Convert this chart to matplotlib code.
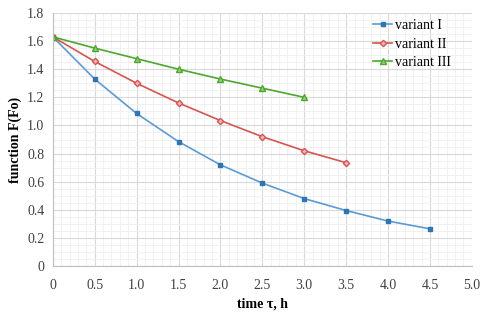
import numpy as np
import matplotlib.pyplot as plt
from matplotlib.ticker import MultipleLocator, FuncFormatter

plt.rcParams['font.family'] = ['Liberation Serif', 'DejaVu Serif']

t1 = [0, 0.5, 1.0, 1.5, 2.0, 2.5, 3.0, 3.5, 4.0, 4.5]
f1 = [1.63, 1.33, 1.085, 0.885, 0.72, 0.59, 0.48, 0.395, 0.32, 0.265]
t2 = [0, 0.5, 1.0, 1.5, 2.0, 2.5, 3.0, 3.5]
f2 = [1.63, 1.455, 1.30, 1.16, 1.035, 0.92, 0.82, 0.735]
t3 = [0, 0.5, 1.0, 1.5, 2.0, 2.5, 3.0]
f3 = [1.63, 1.55, 1.475, 1.40, 1.33, 1.265, 1.20]
names = ['variant I', 'variant II', 'variant III']

fig = plt.figure(figsize=(4.8, 3.16), dpi=100)
ax = fig.add_axes([0.110, 0.158, 0.873, 0.801])

ax.plot(t1, f1, color='#5b9bd5', lw=1.2, marker='s', ms=3.5,
        mfc='#2e75b6', mec='#2e75b6', label=names[0])
ax.plot(t2, f2, color='#d9534f', lw=1.2, marker='D', ms=3.2,
        mfc='#f4b6b4', mec='#d9534f', label=names[1])
ax.plot(t3, f3, color='#4ea72e', lw=1.2, marker='^', ms=4,
        mfc='#8fd16f', mec='#4ea72e', label=names[2])

ax.set_xlim(0, 5.0)
ax.set_ylim(0, 1.8)
ax.xaxis.set_major_locator(MultipleLocator(0.5))
ax.yaxis.set_major_locator(MultipleLocator(0.2))
ax.xaxis.set_minor_locator(MultipleLocator(0.1))
ax.yaxis.set_minor_locator(MultipleLocator(0.05))
ax.xaxis.set_major_formatter(FuncFormatter(lambda v, p: '0' if v == 0 else f'{v:.1f}'))
ax.yaxis.set_major_formatter(FuncFormatter(lambda v, p: '0' if abs(v) < 1e-9 else f'{v:.1f}'))
ax.grid(True, which='major', color='#d9d9d9', lw=0.8)
ax.grid(True, which='minor', color='#efefef', lw=0.6)
ax.set_axisbelow(True)

for s in ['top', 'right']:
    ax.spines[s].set_visible(False)
for s in ['left', 'bottom']:
    ax.spines[s].set_color('#bfbfbf')
ax.tick_params(which='both', length=0, labelsize=10, colors='#404040', pad=6)
ax.tick_params(axis='x', pad=9)

ax.set_xlabel('time τ, h', fontsize=10, fontweight='bold', labelpad=4)
ax.set_ylabel('function F(Fo)', fontsize=10, fontweight='bold', labelpad=4)

leg = ax.legend(loc='upper right', bbox_to_anchor=(0.98, 1.025), frameon=False,
                fontsize=10, handlelength=1.4, handletextpad=0.2, labelspacing=0.4)

fig.savefig('out.png', dpi=100)
